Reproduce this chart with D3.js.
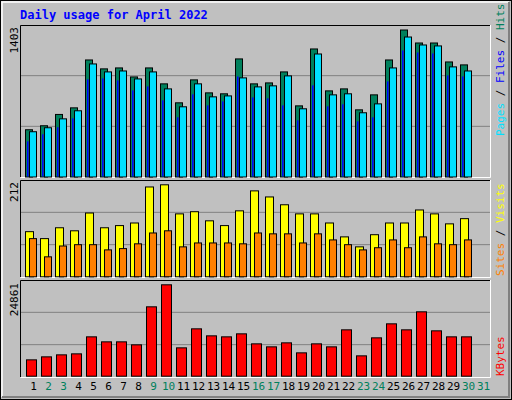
<!DOCTYPE html>
<html><head><meta charset="utf-8">
<script src="https://cdn.jsdelivr.net/npm/d3@7"></script>
<style>body{margin:0;background:#fff}</style></head>
<body><svg id="c" width="512" height="400"></svg>
<script>
const days = d3.range(1, 32).map(String);
const weekendDays = ["2","3","9","10","16","17","23","24","30","31"];
const hits  = [451,489,597,660,1117,1032,1041,955,1041,889,708,927,803,794,1127,889,898,1003,679,1222,822,841,641,784,1117,1403,1279,1279,1098,1070];
const pages = [432,470,555,632,1079,1003,1012,936,1003,841,670,889,765,774,946,860,870,965,651,1174,784,794,613,698,1041,1336,1260,1251,1051,1012];
const files = [336,403,470,555,927,936,917,822,860,727,565,784,679,717,955,755,746,679,536,870,670,689,527,565,908,1203,1184,1174,965,955];
const visits = [104,88,113,106,147,113,118,124,207,212,145,150,129,118,152,198,184,166,145,145,124,92,69,97,124,124,154,145,122,134];
const sites  = [88,46,71,74,74,62,65,76,101,106,69,78,78,78,76,101,99,99,78,99,85,74,62,67,85,67,92,76,74,85];
const kbytes = [4446,5262,5807,6079,10706,9345,9345,8529,18872,24861,7712,12884,10978,10706,11523,8801,7984,9073,6351,8801,7984,12611,5535,10434,14245,12611,17511,12339,10706,10706];
const maxTicks = ["1403","212","24861"];

const svg = d3.select("#c");
const mono = "'DejaVu Sans Mono', monospace";
// outer frame
svg.append("rect").attr("x",0).attr("y",0).attr("width",512).attr("height",400).attr("fill","#c0c0c0");
svg.append("rect").attr("x",0.5).attr("y",0.5).attr("width",511).attr("height",399).attr("fill","none").attr("stroke","#000");
svg.append("path").attr("d","M2,397V2H509").attr("fill","none").attr("stroke","#fff").attr("stroke-width",1.5);
svg.append("path").attr("d","M2,397H509V2").attr("fill","none").attr("stroke","#808080").attr("stroke-width",2);

svg.append("text").attr("x",20).attr("y",19).attr("fill","#0000ff").attr("font-family",mono)
  .attr("font-weight","bold").attr("font-size",12).text("Daily usage for April 2022");

const x = d3.scaleBand().domain(days).range([25,490]).paddingInner(0);
const panels = [{top:25,bottom:177},{top:180,bottom:277},{top:280,bottom:377}];
panels.forEach(p=>{
  svg.append("rect").attr("x",20).attr("y",p.top).attr("width",471).attr("height",p.bottom-p.top).attr("fill","#c0c0c0");
  const h = p.bottom-p.top;
  [1,2].forEach(k=>svg.append("line").attr("x1",21).attr("x2",490)
    .attr("y1",p.bottom-h*k/3).attr("y2",p.bottom-h*k/3).attr("stroke","#808080"));
  svg.append("path").attr("d",`M20.5,${p.bottom}V${p.top+0.5}H490.5`).attr("fill","none").attr("stroke","#000");
  svg.append("path").attr("d",`M20.5,${p.bottom+0.5}H490.5V${p.top}`).attr("fill","none").attr("stroke","#fff");
});

function bars(data, y, off, w, color){
  svg.append("g").selectAll("rect").data(data).join("rect")
    .attr("x",(d,i)=>x(days[i])+off+0.5).attr("width",w)
    .attr("y",d=>y(d)+0.5).attr("height",d=>y(0)-y(d))
    .attr("fill",color).attr("stroke","#000").attr("stroke-width",1);
}
const y1 = d3.scaleLinear().domain([0,1403]).range([176.5,29.5]);
bars(hits,y1,0,7,"#00805c");
bars(pages,y1,4,7,"#00e0ff");
svg.append("g").selectAll("rect").data(files).join("rect")
  .attr("x",(d,i)=>x(days[i])+2).attr("width",1.5)
  .attr("y",d=>y1(d)).attr("height",d=>y1(0)-y1(d)).attr("fill","#0000ff");

const y2 = d3.scaleLinear().domain([0,212]).range([276.3,184.3]);
bars(visits,y2,0,8,"#ffff00");
bars(sites,y2,4,7,"#ff8000");

const y3 = d3.scaleLinear().domain([0,24861]).range([375.7,284.3]);
bars(kbytes,y3,1,10,"#ff0000");

// max tick labels
[[maxTicks[0],27],[maxTicks[1],182],[maxTicks[2],283]].forEach(([t,yy])=>{
  svg.append("text").attr("transform",`translate(18,${yy}) rotate(-90)`).attr("text-anchor","end")
    .attr("font-family",mono).attr("font-size",11).attr("fill","#000").text(t);
});

// x axis labels
const xa = svg.append("g").attr("transform","translate(0,380)")
  .call(d3.axisBottom(x).tickSize(0).tickPadding(2));
xa.select(".domain").remove();
xa.selectAll("text").attr("font-family",mono).attr("font-size",11)
  .attr("fill",d=>weekendDays.includes(d)?"#00805c":"#000")
  .attr("dx",1);

// right side legends
function vlabel(parts, xx, yy){
  const t = svg.append("text").attr("transform",`translate(${xx},${yy}) rotate(-90)`)
    .attr("font-family",mono).attr("font-size",11);
  parts.forEach(([s,c])=>t.append("tspan").attr("fill",c).text(s));
}
vlabel([["Pages","#00e0ff"],[" / ","#000"],["Files","#0000ff"],[" / ","#000"],["Hits","#00805c"]],504,136);
vlabel([["Sites","#ff8000"],[" / ","#000"],["Visits","#ffff00"]],504,276);
vlabel([["KBytes","#ff0000"]],504,376);
</script></body></html>
